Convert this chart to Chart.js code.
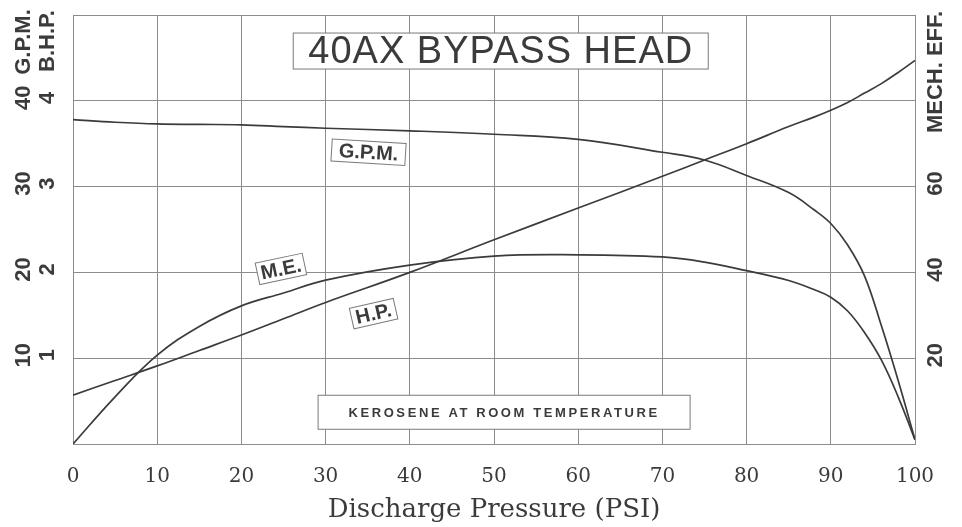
<!DOCTYPE html>
<html>
<head>
<meta charset="utf-8">
<script src="https://cdn.jsdelivr.net/npm/chart.js@4.4.1/dist/chart.umd.min.js"></script>
<style>
  html, body { margin: 0; padding: 0; background: #fff; }
  #wrap { width: 962px; height: 527px; }
</style>
</head>
<body>
<div id="wrap"><canvas id="chart" width="962" height="527"></canvas></div>
<script>
// values
const pressure = [0, 5, 10, 15, 20, 25, 30, 40, 50, 60, 70, 75, 80, 85, 88, 90, 92, 94, 96, 98, 100];
const gpm = [37.8, 37.5, 37.3, 37.25, 37.2, 37.0, 36.8, 36.5, 36.1, 35.5, 34.0, 33.1, 31.3, 29.3, 27.3, 25.7, 23.2, 19.6, 13.8, 7.4, 0.5];
const bhp = [0.57, 0.74, 0.91, 1.09, 1.27, 1.46, 1.65, 2.00, 2.38, 2.75, 3.12, 3.31, 3.50, 3.70, 3.81, 3.89, 3.98, 4.09, 4.20, 4.33, 4.47];
const mechEff = [0, 11, 20.7, 27.4, 32.2, 35.2, 38.2, 41.7, 43.8, 44.1, 43.6, 42.4, 40.4, 38.1, 36.0, 34.2, 31.0, 26, 19.6, 11, 1];

const gpmTicks = [10, 20, 30, 40];
const bhpTicks = [1, 2, 3, 4];
const effTicks = [20, 40, 60];

const INK = '#3b3b3b';
const GRID = '#8c8c8c';

// text boxes, placed in data units (x = psi, y = gpm)
const notes = [
  { text: '40AX BYPASS HEAD', x: 50.8, y: 45.8, w: 415, h: 36, rot: 0, font: '38px "Liberation Sans"', spacing: '1px' },
  { text: 'G.P.M.', x: 35.1, y: 34.0, w: 74, h: 22, rot: 3.5, font: 'bold 20px "Liberation Sans"', spacing: '0px' },
  { text: 'M.E.', x: 24.7, y: 20.4, w: 48, h: 22, rot: -12, font: 'bold 20px "Liberation Sans"', spacing: '0px' },
  { text: 'H.P.', x: 35.7, y: 15.2, w: 45, h: 21, rot: -13, font: 'bold 20px "Liberation Sans"', spacing: '0px' },
  { text: 'KEROSENE AT ROOM TEMPERATURE', x: 51.2, y: 3.7, w: 372, h: 34, rot: 0, font: 'bold 13px "Liberation Sans"', spacing: '2.6px' }
];

const toPoints = (ys) => pressure.map((p, i) => ({ x: p, y: ys[i] }));

const sideLabels = {
  id: 'sideLabels',
  afterDraw(chart) {
    const ctx = chart.ctx;
    const yG = chart.scales.gpm, yB = chart.scales.bhp, yE = chart.scales.eff;
    const vtext = (t, cx, cy) => {
      ctx.save();
      ctx.translate(cx, cy);
      ctx.rotate(-Math.PI / 2);
      ctx.fillText(t, 0, 0);
      ctx.restore();
    };
    ctx.save();
    ctx.fillStyle = INK;
    ctx.font = 'bold 22px "Liberation Sans"';
    ctx.textAlign = 'center';
    ctx.textBaseline = 'middle';
    gpmTicks.forEach(v => vtext(String(v), 24, yG.getPixelForValue(v) - 3));
    bhpTicks.forEach(v => vtext(String(v), 48, yB.getPixelForValue(v) - 3));
    effTicks.forEach(v => vtext(String(v), 936, yE.getPixelForValue(v) - 3));
    vtext('G.P.M.', 24, 42);
    vtext('B.H.P.', 48, 41);
    vtext('MECH. EFF.', 936, 72);

    const x = chart.scales.x;
    notes.forEach(n => {
      ctx.save();
      ctx.translate(x.getPixelForValue(n.x), yG.getPixelForValue(n.y));
      ctx.rotate(n.rot * Math.PI / 180);
      ctx.fillStyle = '#fff';
      ctx.fillRect(-n.w / 2, -n.h / 2, n.w, n.h);
      ctx.strokeStyle = '#7a7a7a';
      ctx.lineWidth = 1;
      ctx.strokeRect(-n.w / 2, -n.h / 2, n.w, n.h);
      ctx.fillStyle = INK;
      ctx.font = n.font;
      ctx.letterSpacing = n.spacing;
      ctx.fillText(n.text, 0, 1);
      ctx.restore();
    });
    ctx.restore();
  }
};

const line = (data, axis) => ({
  data: toPoints(data),
  yAxisID: axis,
  borderColor: INK,
  borderWidth: 1.7,
  pointRadius: 0,
  fill: false,
  tension: 0.4
});

new Chart(document.getElementById('chart'), {
  type: 'line',
  data: {
    datasets: [line(gpm, 'gpm'), line(bhp, 'bhp'), line(mechEff, 'eff')]
  },
  options: {
    responsive: false,
    animation: false,
    layout: { padding: { top: 15 } },
    plugins: { legend: { display: false }, tooltip: { enabled: false } },
    scales: {
      x: {
        type: 'linear',
        min: 0,
        max: 100,
        afterFit: (s) => { s.height = 83; },
        grid: { color: GRID, drawTicks: false },
        border: { color: GRID },
        ticks: {
          stepSize: 10,
          padding: 21,
          color: INK,
          font: { family: '"DejaVu Serif"', size: 20 }
        },
        title: {
          display: true,
          text: 'Discharge Pressure (PSI)',
          color: INK,
          font: { family: '"DejaVu Serif"', size: 26 },
          padding: { top: 4, bottom: 1 }
        }
      },
      gpm: {
        position: 'left',
        min: 0,
        max: 50,
        afterFit: (s) => { s.width = 73; },
        grid: { color: GRID, drawTicks: false },
        border: { color: GRID },
        ticks: { stepSize: 10, display: false }
      },
      bhp: {
        position: 'left',
        display: false,
        min: 0,
        max: 5
      },
      eff: {
        position: 'right',
        min: 0,
        max: 100,
        afterFit: (s) => { s.width = 47; },
        grid: { display: false },
        border: { color: GRID },
        ticks: { stepSize: 20, display: false }
      }
    }
  },
  plugins: [sideLabels]
});
</script>
</body>
</html>
